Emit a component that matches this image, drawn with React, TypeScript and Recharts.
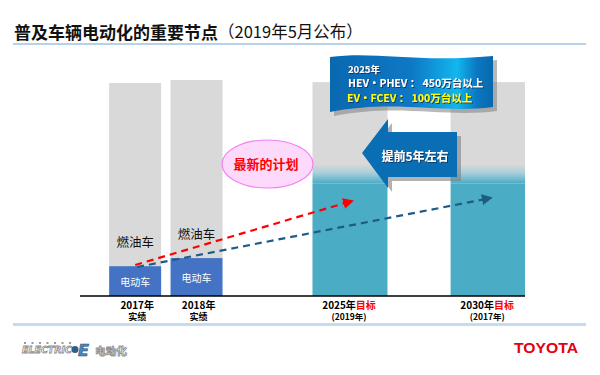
import React from 'react';
import { ComposedChart, Bar, Line, XAxis, YAxis } from 'recharts';

// ---- data ----
const yearLabels = ['2017年', '2018年', '2025年', '2030年'];
const labelSuffix = ['', '', '目标', '目标'];
const subLabels = ['实绩', '实绩', '(2019年)', '(2017年)'];
const targetFlags = [false, false, true, true];
const slots = [1, 2, 4.5, 6.75];
const evValues = [13, 16.5, 49, 49];
const iceValues = [79.6, 77.4, 44, 44];

const latestPlanX = [1.0, 4.53];
const latestPlanY = [13.5, 41.3];
const previousPlanX = [1.03, 6.79];
const previousPlanY = [12.6, 42.6];

const data = slots.map((pos, i) => ({ pos, ev: evValues[i], ice: iceValues[i], target: targetFlags[i] }));
const latestPlan = latestPlanX.map((pos, i) => ({ pos, v: latestPlanY[i] }));
const previousPlan = previousPlanX.map((pos, i) => ({ pos, v: previousPlanY[i] }));

// ---- styles ----
const FONT = '"Noto Sans CJK SC", "Noto Sans", sans-serif';
const GRAY = '#D9D9D9';
const BLUE = '#4472C4';
const TEAL = '#4BACC6';
const RED = '#FF0000';
const NAVY = '#1F5B86';

const isTarget = (props: any) => {
  if (props.payload && typeof props.payload.target === 'boolean') return props.payload.target;
  return targetFlags[props.index] || false;
};

const EvShape = (props: any) => {
  const { x, y, width, height } = props;
  const target = isTarget(props);
  const w = target ? 75 : 52;
  const cx = x + width / 2;
  return (
    <g>
      <rect x={cx - w / 2} y={y} width={w} height={height} fill={target ? TEAL : BLUE} />
      {!target && (
        <text x={cx} y={y + height / 2} textAnchor="middle" dominantBaseline="central" fill="#fff" fontSize={10} fontFamily={FONT}>
          电动车
        </text>
      )}
    </g>
  );
};

const IceShape = (props: any) => {
  const { x, y, width, height, index } = props;
  const target = isTarget(props);
  const w = target ? 75 : 52;
  const cx = x + width / 2;
  const bottom = y + height;
  if (target) {
    const gid = `fade-${index}`;
    return (
      <g>
        <defs>
          <linearGradient id={gid} gradientUnits="userSpaceOnUse" x1={0} y1={bottom - 19} x2={0} y2={bottom}>
            <stop offset="0" stopColor={GRAY} />
            <stop offset="0.45" stopColor="#A9CFDA" />
            <stop offset="1" stopColor={TEAL} />
          </linearGradient>
        </defs>
        <rect x={cx - w / 2} y={y} width={w} height={height} fill={`url(#${gid})`} />
      </g>
    );
  }
  return (
    <g>
      <rect x={cx - w / 2} y={y} width={w} height={height} fill={GRAY} />
      <text x={cx} y={bottom - 25} textAnchor="middle" dominantBaseline="central" fill="#111" fontSize={12.5} fontFamily={FONT}>
        燃油车
      </text>
    </g>
  );
};

const CategoryTick = (props: any) => {
  const { x, y, payload } = props;
  const i = slots.indexOf(payload.value);
  if (i < 0) return null;
  const target = targetFlags[i];
  const tx = x + (target ? -1 : 2);
  return (
    <g>
      <text x={tx} y={y + 7.5} textAnchor="middle" dominantBaseline="central" fontSize={10} fontWeight="bold" fontFamily={FONT} fill="#000">
        <tspan>{yearLabels[i]}</tspan>
        {labelSuffix[i] && <tspan fill={RED}>{labelSuffix[i]}</tspan>}
      </text>
      <text x={tx} y={y + 20} textAnchor="middle" dominantBaseline="central" fontSize={target ? 8.5 : 9} fontWeight="bold" fontFamily={FONT} fill="#000">
        {subLabels[i]}
      </text>
    </g>
  );
};

const Overlay = () => (
  <svg width={600} height={375} style={{ position: 'absolute', left: 0, top: 0, pointerEvents: 'none' }}>
    <defs>
      <linearGradient id="bannerGrad" x1="0" y1="0" x2="1" y2="0">
        <stop offset="0" stopColor="#0A68B0" />
        <stop offset="0.5" stopColor="#0E78C6" />
        <stop offset="0.78" stopColor="#12B6EE" />
        <stop offset="0.9" stopColor="#0A78C2" />
        <stop offset="1" stopColor="#0868AE" />
      </linearGradient>
      <filter id="txtShadow" x="-10%" y="-30%" width="130%" height="170%">
        <feDropShadow dx="1" dy="1" stdDeviation="0.3" floodColor="#0B3C66" floodOpacity="1" />
      </filter>
    </defs>
    {/* title */}
    <text x={14} y={31} dominantBaseline="central" fontSize={17} fontFamily={FONT} fill="#111">
      <tspan fontWeight="bold">普及车辆电动化的重要节点</tspan>
      <tspan fontWeight="normal" fontSize={16.5}>（2019年5月公布）</tspan>
    </text>
    <line x1={13} y1={44} x2={586} y2={44} stroke="#9DC3E6" strokeWidth={1.5} />
    <line x1={13} y1={324.5} x2={586} y2={324.5} stroke="#C5DCF0" strokeWidth={3} />

    {/* pink ellipse */}
    <ellipse cx={267.5} cy={164} rx={45.5} ry={24} fill="#FDD9FC" stroke="#F47FF2" strokeWidth={1.2} />
    <text x={266} y={163} textAnchor="middle" dominantBaseline="central" fontSize={13} fontWeight="bold" fontFamily={FONT} fill={RED}>
      最新的计划
    </text>

    {/* banner */}
    <path d="M334,61 C380,55 420,67 497,60 L497,111 C445,118 400,103 334,116 Z" fill="#7F7F7F" opacity={0.55} />
    <path d="M330,57 C376,51 416,63 493,56 L493,107 C441,114 396,99 330,112 Z" fill="url(#bannerGrad)" />
    <g fontFamily={FONT} fontWeight="bold" filter="url(#txtShadow)">
      <text x={348} y={68.5} dominantBaseline="central" fill="#fff" fontSize={9.5}>2025年</text>
      <text x={348} y={82.5} dominantBaseline="central" fill="#fff" fontSize={10.5}>HEV·PHEV ： 450万台以上</text>
      <text x={347} y={97.5} dominantBaseline="central" fill="#FFFF00" fontSize={10.5}>EV·FCEV ： 100万台以上</text>
    </g>

    {/* left arrow */}
    <path d="M366,157 L392,123 L392,136 L461,136 L461,181 L392,181 L392,192 Z" fill="#7F7F7F" opacity={0.6} />
    <path d="M362,153 L388,119 L388,132 L457,132 L457,177 L388,177 L388,188 Z" fill="#0A6EB4" />
    <text x={415} y={155} textAnchor="middle" dominantBaseline="central" fontSize={12} fontWeight="bold" fontFamily={FONT} fill="#fff" filter="url(#txtShadow)">
      提前5年左右
    </text>

    {/* ELECTRIC logo */}
    <g fill="#9A9A9A">
      {[0, 1, 2, 3, 4, 5, 6].map((k) => (
        <rect key={k} x={24 + k * 7.5} y={342} width={2} height={2} />
      ))}
    </g>
    <text x={22} y={350} dominantBaseline="central" fontSize={9} fontWeight="bold" fontStyle="italic" fontFamily="DejaVu Sans" fill="#fff" stroke="#8C8C8C" strokeWidth={0.8} textLength={50} lengthAdjust="spacingAndGlyphs">
      ELECTRIC
    </text>
    <circle cx={75} cy={349.5} r={3.5} fill="#2E5E8C" />
    <text x={78} y={350} dominantBaseline="central" fontSize={16} fontWeight="bold" fontStyle="italic" fontFamily="DejaVu Sans" fill="#4F87B8" stroke="#1E4E78" strokeWidth={0.6}>
      E
    </text>
    <text x={95} y={350} dominantBaseline="central" fontSize={10} fontWeight="bold" fontFamily={FONT} fill="#fff" stroke="#8C8C8C" strokeWidth={0.8} textLength={32} lengthAdjust="spacingAndGlyphs">
      电动化
    </text>

    {/* TOYOTA */}
    <text x={514} y={347} dominantBaseline="central" fontSize={15} fontWeight="bold" fontFamily="Liberation Sans, Arial, sans-serif" fill="#E60012" textLength={64} lengthAdjust="spacingAndGlyphs">
      TOYOTA
    </text>
  </svg>
);

export default function App() {
  return (
    <div style={{ position: 'absolute', left: 0, top: 0, width: 600, height: 375, background: '#fff', overflow: 'hidden' }}>
      <svg width={0} height={0} style={{ position: 'absolute' }}>
        <defs>
          <marker id="arrowRed" viewBox="0 0 10 10" refX="8" refY="5" markerWidth="5" markerHeight="5" orient="auto" markerUnits="strokeWidth">
            <path d="M0,0 L10,5 L0,10 z" fill={RED} />
          </marker>
          <marker id="arrowNavy" viewBox="0 0 10 10" refX="8" refY="5" markerWidth="5" markerHeight="5" orient="auto" markerUnits="strokeWidth">
            <path d="M0,0 L10,5 L0,10 z" fill={NAVY} />
          </marker>
        </defs>
      </svg>
      <ComposedChart width={600} height={375} data={data} margin={{ top: 66, left: 80, right: 75, bottom: 49 }}>
        <XAxis
          type="number"
          dataKey="pos"
          domain={[0.1, 7.35]}
          ticks={slots}
          interval={0}
          allowDataOverflow
          tick={<CategoryTick />}
          tickLine={false}
          tickSize={0}
          tickMargin={0}
          height={30}
          axisLine={{ stroke: '#000', strokeWidth: 1.5 }}
        />
        <YAxis
          type="number"
          domain={[0, 100]}
          allowDataOverflow
          tick={false}
          tickLine={false}
          width={0}
          axisLine={{ stroke: '#000', strokeWidth: 1.5 }}
        />
        <Bar dataKey="ev" stackId="a" barSize={52} shape={<EvShape />} isAnimationActive={false} />
        <Bar dataKey="ice" stackId="a" barSize={52} shape={<IceShape />} isAnimationActive={false} />
        <Line
          data={previousPlan}
          dataKey="v"
          type="linear"
          stroke={NAVY}
          strokeWidth={2.2}
          strokeDasharray="7 5"
          dot={false}
          activeDot={false}
          markerEnd="url(#arrowNavy)"
          isAnimationActive={false}
        />
        <Line
          data={latestPlan}
          dataKey="v"
          type="linear"
          stroke={RED}
          strokeWidth={2.2}
          strokeDasharray="7 5"
          dot={false}
          activeDot={false}
          markerEnd="url(#arrowRed)"
          isAnimationActive={false}
        />
      </ComposedChart>
      <Overlay />
    </div>
  );
}
